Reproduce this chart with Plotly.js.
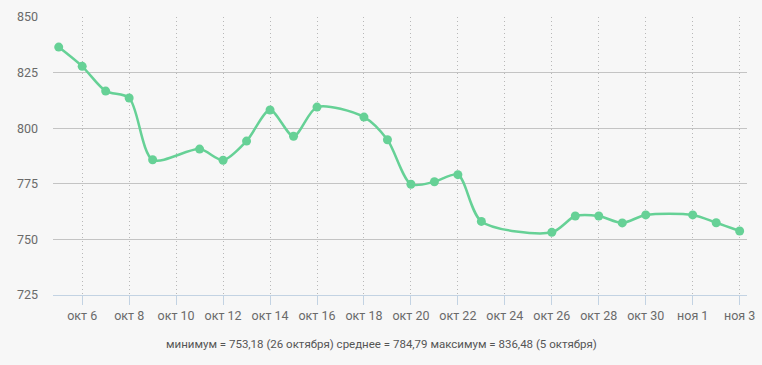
<!DOCTYPE html>
<html>
<head>
<meta charset="utf-8">
<script src="https://cdn.plot.ly/plotly-3.0.1.min.js"></script>
<style>
html,body{margin:0;padding:0;background:#f7f7f7;}
#chart{width:762px;height:365px;}
</style>
</head>
<body>
<div id="chart"></div>
<script>
const dates = ["2020-10-05","2020-10-06","2020-10-07","2020-10-08","2020-10-09","2020-10-11","2020-10-12","2020-10-13","2020-10-14","2020-10-15","2020-10-16","2020-10-18","2020-10-19","2020-10-20","2020-10-21","2020-10-22","2020-10-23","2020-10-26","2020-10-27","2020-10-28","2020-10-29","2020-10-30","2020-11-01","2020-11-02","2020-11-03"];
const values = [836.48,827.8,816.7,813.6,785.8,790.6,785.6,794.2,808.2,796.4,809.5,805.0,794.8,774.8,775.9,779.1,758.1,753.18,760.5,760.5,757.4,761.0,761.0,757.5,753.8];
const tickDates = ["2020-10-06","2020-10-08","2020-10-10","2020-10-12","2020-10-14","2020-10-16","2020-10-18","2020-10-20","2020-10-22","2020-10-24","2020-10-26","2020-10-28","2020-10-30","2020-11-01","2020-11-03"];
const tickLabels = ["окт 6","окт 8","окт 10","окт 12","окт 14","окт 16","окт 18","окт 20","окт 22","окт 24","окт 26","окт 28","окт 30","ноя 1","ноя 3"];
const yTicks = [725,750,775,800,825,850];
const summary = "минимум = 753,18 (26 октября) среднее = 784,79 максимум = 836,48 (5 октября)";

const trace = {
  x: dates, y: values, type: "scatter", mode: "lines+markers",
  line: {color: "#66d196", width: 2.5, shape: "spline", smoothing: 0.8},
  marker: {color: "#66d196", size: 9},
  hoverinfo: "skip"
};
const layout = {
  width: 762, height: 365,
  margin: {l: 53, r: 15, t: 17, b: 70},
  paper_bgcolor: "#f7f7f7", plot_bgcolor: "#f7f7f7",
  font: {family: "Roboto, sans-serif", color: "#666"},
  showlegend: false,
  xaxis: {
    type: "date",
    range: ["2020-10-04 18:10", "2020-11-03 07:30"],
    tickmode: "array", tickvals: tickDates, ticktext: tickLabels,
    tickfont: {size: 12.5, color: "#6a6a6a"},
    showgrid: true, gridcolor: "#b8b8b8", griddash: "1px,3px", gridwidth: 1,
    showline: true, linecolor: "#c3d3e3", linewidth: 1,
    ticks: "outside", ticklen: 9, tickcolor: "#c3d3e3",
    zeroline: false, fixedrange: true
  },
  yaxis: {
    range: [725, 850],
    tickmode: "array", tickvals: yTicks,
    tickfont: {size: 12.5, color: "#6a6a6a"},
    showgrid: true, gridcolor: "#c4c4c4", gridwidth: 1,
    showline: false, zeroline: false, ticks: "",
    ticklabelstandoff: 14, fixedrange: true
  },
  annotations: [{
    text: summary, xref: "paper", yref: "paper",
    x: 0.474, y: -0.175, xanchor: "center", yanchor: "middle",
    showarrow: false, font: {size: 11.5, color: "#555"}
  }]
};
Plotly.newPlot("chart", [trace], layout, {displayModeBar: false, staticPlot: true});
</script>
</body>
</html>
